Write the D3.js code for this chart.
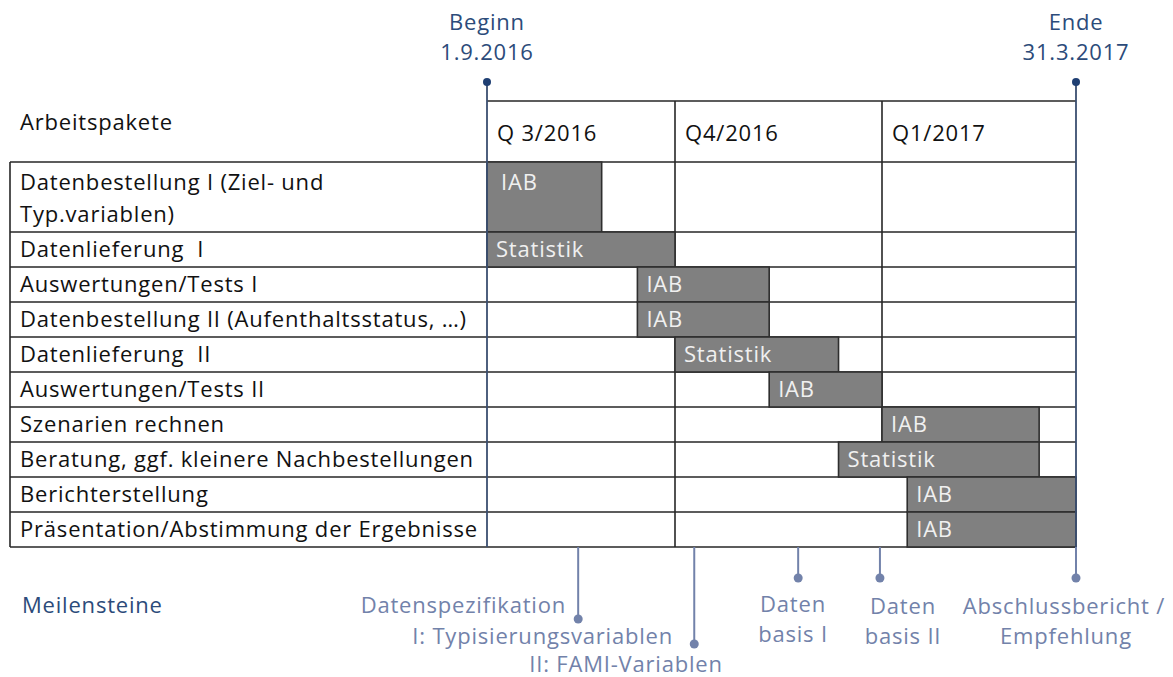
<!DOCTYPE html>
<html>
<head>
<meta charset="utf-8">
<script src="https://cdn.jsdelivr.net/npm/d3@7"></script>
<style>
  html, body { margin: 0; padding: 0; background: #fff; }
  svg { display: block; font-family: "Open Sans", Lato, sans-serif; letter-spacing: 0.8px; }
</style>
</head>
<body>
<svg id="chart" width="1173" height="677"></svg>
<script>
// ---------- data ----------
const quarters = ["Q 3/2016", "Q4/2016", "Q1/2017"];
const tasks = [
  "Datenbestellung I (Ziel- und\nTyp.variablen)",
  "Datenlieferung  I",
  "Auswertungen/Tests I",
  "Datenbestellung II (Aufenthaltsstatus, …)",
  "Datenlieferung  II",
  "Auswertungen/Tests II",
  "Szenarien rechnen",
  "Beratung, ggf. kleinere Nachbestellungen",
  "Berichterstellung",
  "Präsentation/Abstimmung der Ergebnisse"
];
const rowSpans = [2, 1, 1, 1, 1, 1, 1, 1, 1, 1];
// start / end in quarter units (0 = 1.9.2016, 3 = 31.3.2017)
const taskStart = [0, 0, 0.80, 0.80, 1.0, 1.455, 2.0, 1.79, 2.13, 2.13];
const taskEnd   = [0.61, 1.0, 1.455, 1.455, 1.79, 2.0, 2.81, 2.81, 3.0, 3.0];
const taskOwner = ["IAB", "Statistik", "IAB", "IAB", "Statistik", "IAB", "IAB", "Statistik", "IAB", "IAB"];

const topMarks = [
  { at: 0, lines: ["Beginn", "1.9.2016"] },
  { at: 3, lines: ["Ende", "31.3.2017"] }
];
const milestoneAt = [0.485, 1.093, 1.595, 1.99, 3.0];
const milestoneText = [
  ["Datenspezifikation", "I: Typisierungsvariablen"],
  ["II: FAMI-Variablen"],
  ["Daten", "basis I"],
  ["Daten", "basis II"],
  ["Abschlussbericht /", "Empfehlung"]
];

// ---------- layout ----------
const svg = d3.select("#chart");
const tableLeft = 10, labelX = 20;
const headerTop = 101, headerBottom = 162, tableBottom = 547;
const x = d3.scaleLinear().domain([0, 1, 2, 3]).range([487, 675, 882, 1076]);
const totalUnits = d3.sum(rowSpans);
const y = d3.scaleLinear().domain([0, totalUnits]).range([headerBottom, tableBottom]);
const cum = [0];
rowSpans.forEach((s, i) => cum.push(cum[i] + s));

const lineCol = "#262626", navy = "#1f3f73", msCol = "#7282aa", darkBlue = "#2c4b7a";
const fs = 22;

// grid lines
const grid = svg.append("g").attr("stroke", lineCol).attr("stroke-width", 1.6).attr("fill", "none");
cum.forEach(c => {
  grid.append("line").attr("x1", tableLeft).attr("x2", x(3)).attr("y1", y(c)).attr("y2", y(c));
});
grid.append("line").attr("x1", x(0)).attr("x2", x(3)).attr("y1", headerTop).attr("y2", headerTop);
grid.append("line").attr("x1", tableLeft).attr("x2", tableLeft).attr("y1", headerBottom).attr("y2", tableBottom);
// quarter separators (the Q1 separator stops above the last two rows, as in the original)
const sepEndRow = [cum[cum.length - 1], cum[8]];
[1, 2].forEach((q, k) => {
  grid.append("line").attr("x1", x(q)).attr("x2", x(q)).attr("y1", headerTop).attr("y2", y(sepEndRow[k]));
});

// bars (drawn over the grid)
const bars = svg.append("g");
tasks.forEach((t, i) => {
  bars.append("rect")
    .attr("x", x(taskStart[i]))
    .attr("y", y(cum[i]))
    .attr("width", x(taskEnd[i]) - x(taskStart[i]))
    .attr("height", y(cum[i + 1]) - y(cum[i]))
    .attr("fill", "#808080")
    .attr("stroke", "#2e2e2e")
    .attr("stroke-width", 1.6);
});

// bar labels
tasks.forEach((t, i) => {
  const cy = rowSpans[i] > 1 ? y(cum[i]) + 20 : (y(cum[i]) + y(cum[i + 1])) / 2;
  svg.append("text")
    .attr("x", x(taskStart[i]) + (rowSpans[i] > 1 ? 14 : 9))
    .attr("y", cy)
    .attr("dy", "0.36em")
    .attr("fill", "#f0f0f0")
    .attr("font-size", fs)
    .text(taskOwner[i]);
});

// task labels
tasks.forEach((t, i) => {
  const parts = t.split("\n");
  const top = y(cum[i]), bot = y(cum[i + 1]);
  const h = (bot - top) / parts.length;
  parts.forEach((p, j) => {
    svg.append("text")
      .attr("x", labelX)
      .attr("y", top + h * (j + 0.5) + (parts.length > 1 && j === 0 ? 3 : 0))
      .attr("dy", "0.36em")
      .attr("fill", "#111")
      .attr("font-size", fs)
      .attr("xml:space", "preserve")
      .style("white-space", "pre")
      .text(p);
  });
});

// header labels
svg.append("text").attr("x", labelX).attr("y", 122).attr("dy", "0.36em")
  .attr("font-size", fs).attr("fill", "#111").text("Arbeitspakete");
quarters.forEach((q, i) => {
  svg.append("text").attr("x", x(i) + 10).attr("y", 133).attr("dy", "0.36em")
    .attr("font-size", fs).attr("fill", "#111").text(q);
});

// top markers (Beginn / Ende)
topMarks.forEach(m => {
  const px = x(m.at);
  svg.append("line").attr("x1", px).attr("x2", px).attr("y1", 82).attr("y2", tableBottom)
    .attr("stroke", "#3a4e70").attr("stroke-width", 1.8);
  svg.append("circle").attr("cx", px).attr("cy", 82).attr("r", 4).attr("fill", navy);
  m.lines.forEach((l, j) => {
    svg.append("text").attr("x", px).attr("y", 22 + j * 30).attr("dy", "0.36em")
      .attr("text-anchor", "middle").attr("font-size", fs).attr("fill", darkBlue).text(l);
  });
});

// milestones
const msDotY = [619, 644, 578, 578, 578];
milestoneAt.forEach((m, i) => {
  const px = x(m);
  svg.append("line").attr("x1", px).attr("x2", px).attr("y1", tableBottom).attr("y2", msDotY[i])
    .attr("stroke", msCol).attr("stroke-width", 2);
  svg.append("circle").attr("cx", px).attr("cy", msDotY[i]).attr("r", 4.5).attr("fill", msCol);
});
const msTextPos = [
  [{ x: 566, y: 605, a: "end" }, { x: 673, y: 636, a: "end" }],
  [{ x: 626, y: 664, a: "middle" }],
  [{ x: 793, y: 604, a: "middle" }, { x: 793, y: 634, a: "middle" }],
  [{ x: 903, y: 606, a: "middle" }, { x: 903, y: 636, a: "middle" }],
  [{ x: 1064, y: 606, a: "middle" }, { x: 1066, y: 636, a: "middle" }]
];
milestoneText.forEach((lines, i) => {
  lines.forEach((l, j) => {
    const p = msTextPos[i][j];
    svg.append("text").attr("x", p.x).attr("y", p.y).attr("dy", "0.36em")
      .attr("text-anchor", p.a).attr("font-size", fs).attr("fill", msCol).text(l);
  });
});
svg.append("text").attr("x", 22).attr("y", 605).attr("dy", "0.36em")
  .attr("font-size", fs).attr("fill", darkBlue).text("Meilensteine");
</script>
</body>
</html>
